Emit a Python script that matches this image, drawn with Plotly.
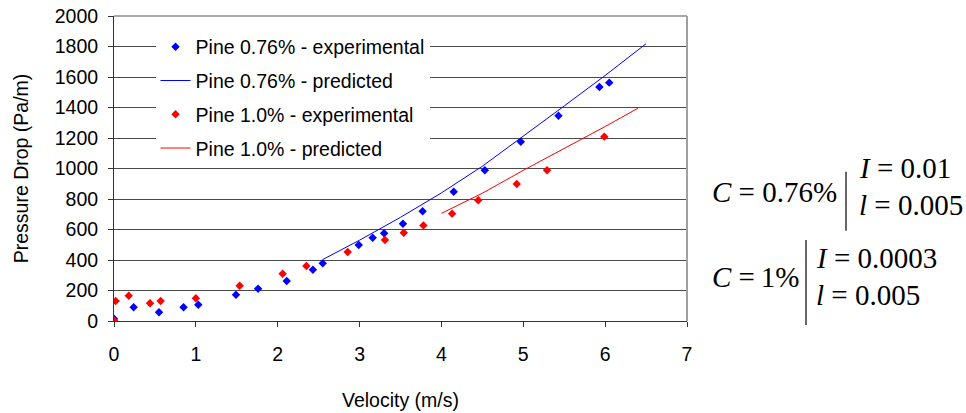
import plotly.graph_objects as go

# ---- data ----
v_exp_076 = [0, 0.24, 0.55, 0.85, 1.03, 1.49, 1.76, 2.11, 2.43, 2.55, 2.99, 3.16, 3.30, 3.53,
             3.77, 4.15, 4.53, 4.97, 5.43, 5.93, 6.05]
p_exp_076 = [15, 90, 57, 90, 107, 172, 212, 262, 336, 378, 498, 546, 575, 638,
             719, 848, 988, 1175, 1346, 1534, 1563]

v_pred_076 = [2.55, 3.0, 3.5, 4.0, 4.5, 5.0, 5.5, 6.0, 6.5]
p_pred_076 = [403, 530, 680, 840, 1015, 1210, 1410, 1610, 1818]

v_exp_100 = [0, 0.02, 0.18, 0.44, 0.57, 1.0, 1.535, 2.06, 2.35, 2.855, 3.31, 3.54, 3.78,
             4.13, 4.45, 4.92, 5.29, 5.99]
p_exp_100 = [4, 131, 166, 116, 131, 149, 231, 310, 361, 452, 531, 579, 627,
             704, 792, 899, 989, 1209]

v_pred_100 = [4.0, 4.5, 5.0, 5.5, 6.0, 6.4]
p_pred_100 = [706, 838, 988, 1130, 1275, 1395]

x_ticks = [0, 1, 2, 3, 4, 5, 6, 7]
y_ticks = [0, 200, 400, 600, 800, 1000, 1200, 1400, 1600, 1800, 2000]

names = ["Pine 0.76% - experimental", "Pine 0.76% - predicted",
         "Pine 1.0% - experimental", "Pine 1.0% - predicted"]

FONT = "Liberation Sans, Arial, sans-serif"
SERIF = "Liberation Serif, Times New Roman, serif"
FS = 19.5

fig = go.Figure()
fig.add_trace(go.Scatter(x=v_exp_076, y=p_exp_076, mode="markers", name=names[0],
                         legendgroup="a",
                         marker=dict(symbol="diamond", size=6.5, color="#0000FF")))
fig.add_trace(go.Scatter(x=v_pred_076, y=p_pred_076, mode="lines", name=names[1],
                         legendgroup="b", line=dict(color="#0000FF", width=1)))
fig.add_trace(go.Scatter(x=v_exp_100, y=p_exp_100, mode="markers", name=names[2],
                         legendgroup="c",
                         marker=dict(symbol="diamond", size=6.5, color="#FF0000")))
fig.add_trace(go.Scatter(x=v_pred_100, y=p_pred_100, mode="lines", name=names[3],
                         legendgroup="d", line=dict(color="#FF0000", width=1)))

fig.update_layout(
    width=966, height=413,
    margin=dict(l=114, r=279, t=16, b=92, autoexpand=False),
    paper_bgcolor="white", plot_bgcolor="white",
    font=dict(family=FONT, size=FS, color="black"),
    legend=dict(x=0.0725, y=0.962, xanchor="left", yanchor="top",
                bgcolor="white", borderwidth=0, traceorder="grouped",
                tracegroupgap=5.4, font=dict(family=FONT, size=FS)),
    xaxis=dict(range=[0, 7], tickvals=x_ticks, showgrid=False, zeroline=False,
               automargin=False,
               showline=True, linecolor="#333333", linewidth=1,
               ticks="outside", ticklen=5, tickcolor="#333333",
               ticklabelstandoff=11,
               title=dict(text="Velocity (m/s)", standoff=28,
                          font=dict(family=FONT, size=FS))),
    yaxis=dict(range=[0, 2000], tickvals=y_ticks, showgrid=True,
               gridcolor="#4a4a4a", gridwidth=1, zeroline=False,
               automargin=False,
               showline=True, linecolor="#333333", linewidth=1,
               ticks="outside", ticklen=5, tickcolor="#333333",
               ticklabelstandoff=6,
               title=dict(text="Pressure Drop (Pa/m)", standoff=20,
                          font=dict(family=FONT, size=FS))),
)

# plot-area border (top and right), light gray as in the reference
fig.add_shape(type="line", xref="paper", yref="paper", x0=0, x1=1, y0=1, y1=1,
              line=dict(color="#8c8c8c", width=1.5))
fig.add_shape(type="line", xref="paper", yref="paper", x0=1, x1=1, y0=0, y1=1,
              line=dict(color="#a0a0a0", width=2))

# right-hand parameter annotations
def ann(text, x, y):
    fig.add_annotation(text=text, x=x, y=y, xref="paper", yref="paper",
                       xanchor="left", yanchor="middle", showarrow=False,
                       font=dict(family=SERIF, size=29, color="black"))

ann("<i>C</i> = 0.76%", 1.040, 0.423)
ann("<i>I</i> = 0.01", 1.296, 0.502)
ann("<i>l</i> = 0.005", 1.296, 0.380)
ann("<i>C</i> =\u20091%", 1.040, 0.144)
ann("<i>I</i> = 0.0003", 1.221, 0.207)
ann("<i>l</i> = 0.005", 1.221, 0.085)

fig.add_shape(type="line", xref="paper", yref="paper", x0=1.2775, x1=1.2775,
              y0=0.296, y1=0.4895, line=dict(color="black", width=1.2))
fig.add_shape(type="line", xref="paper", yref="paper", x0=1.2077, x1=1.2077,
              y0=-0.013, y1=0.2656, line=dict(color="black", width=1.2))

fig.write_html("out.html",
               config={"displayModeBar": False},
               post_script="document.body.style.margin='0';document.body.style.overflow='hidden';")
